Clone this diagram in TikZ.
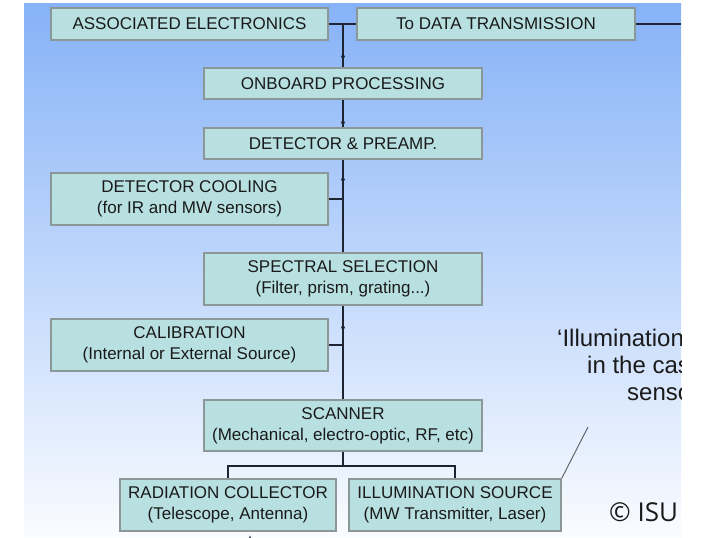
\documentclass[tikz,border=0pt]{standalone}
\usepackage{fontspec}
\setmainfont{Liberation Sans}
\newfontfamily\isufont{Open Sans}
\usetikzlibrary{arrows.meta,decorations.markings}
\definecolor{panelTop}{RGB}{134,178,247}
\definecolor{panelMid}{RGB}{186,211,250}
\definecolor{panelBot}{RGB}{250,252,255}
\definecolor{boxFill}{RGB}{184,224,225}
\definecolor{boxLine}{RGB}{140,152,152}
\definecolor{wire}{RGB}{30,36,50}
\definecolor{inkText}{RGB}{26,26,26}
\begin{document}
\begin{tikzpicture}[x=1pt,y=-1pt,
		block/.style={draw=boxLine, line width=1.5pt, fill=boxFill, text=inkText, inner sep=0pt, align=center, font=\fontsize{17}{21}\selectfont},
		wireline/.style={draw=wire, line width=1.5pt},
		upmark/.style={postaction={decorate,decoration={markings,mark=at position #1 with {\arrow{Latex[length=6pt,width=4.5pt]}}}}},
		notetext/.style={anchor=base west, inner sep=0pt, text=inkText, font=\fontsize{24}{28}\selectfont}]
		\useasboundingbox (0,0) rectangle (702,538);
		\shade[top color=panelTop, middle color=panelMid, bottom color=panelBot] (24,3) rectangle (681,538);
		
		\node[block, minimum width=277pt, minimum height=32pt] (assoc) at (189.5,24) {ASSOCIATED ELECTRONICS};
		\node[block, minimum width=278pt, minimum height=32pt] (datatx) at (496,24) {To DATA TRANSMISSION};
		\node[block, minimum width=278pt, minimum height=31pt] (onboard) at (343,83.5) {ONBOARD PROCESSING};
		\node[block, minimum width=278pt, minimum height=31pt] (detector) at (343,143.5) {DETECTOR \& PREAMP.};
		\node[block, minimum width=277pt, minimum height=52pt] (cooling) at (189.5,199) {DETECTOR COOLING\\(for IR and MW sensors)};
		\node[block, minimum width=278pt, minimum height=52pt] (spectral) at (343,279) {SPECTRAL SELECTION\\(Filter, prism, grating...)};
		\node[block, minimum width=277pt, minimum height=52pt] (calib) at (189.5,345) {CALIBRATION\\(Internal or External Source)};
		\node[block, minimum width=278pt, minimum height=51pt] (scanner) at (343,425.5) {SCANNER\\(Mechanical, electro-optic, RF, etc)};
		\node[block, minimum width=216pt, minimum height=52pt] (collector) at (228,505) {RADIATION COLLECTOR\\(Telescope, Antenna)};
		\node[block, minimum width=212pt, minimum height=52pt] (illum) at (455,505) {ILLUMINATION SOURCE\\(MW Transmitter, Laser)};
		
		\coordinate (junction) at (343,24);
		\coordinate (dataout) at (681,24);
		\coordinate (split) at (343,466);
		\coordinate (rcfeed) at (250,550);
		\coordinate (notetip) at (588,427);
		
		\draw[wireline] (assoc.east) -- (datatx.west);
		\draw[wireline] (datatx.east) -- (dataout);
		\draw[wireline, upmark=16pt] (onboard.north) -- (junction);
		\draw[wireline, upmark=10pt] (detector.north) -- (onboard.south);
		\draw[wireline, upmark=78pt] (spectral.north) -- (detector.south);
		\draw[wireline, upmark=77pt] (scanner.north) -- (spectral.south);
		\draw[wireline] (cooling.east) -- (cooling.east -| detector.south);
		\draw[wireline] (calib.east) -- (calib.east -| scanner.north);
		\draw[wireline] (scanner.south) -- (split);
		\draw[wireline] (collector.north) |- (split) -| (illum.north);
		\draw[wireline, -{Latex[length=6pt,width=4.5pt]}] (rcfeed) -- ([xshift=22pt,yshift=-3pt]collector.south);
		\draw[draw=black!60, line width=1pt] (illum.north east) -- (notetip);
		
		\begin{scope}
		\clip (24,3) rectangle (681,538);
		\node[notetext] (note1) at (557,346) {‘Illumination};
		\node[notetext] (note2) at (587,373) {in the case};
		\node[notetext] (note3) at (627,400) {sensors};
		\end{scope}
		\node[anchor=base west, inner sep=0pt, text=inkText, font=\isufont\fontsize{26}{30}\selectfont] (isu) at (609,521) {© ISU};
\end{tikzpicture}
\end{document}
